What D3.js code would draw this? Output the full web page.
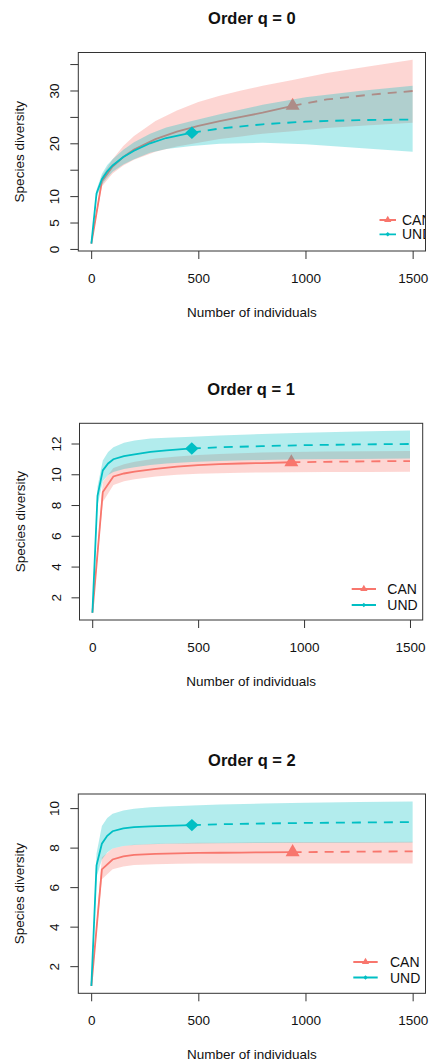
<!DOCTYPE html>
<html>
<head>
<meta charset="utf-8">
<script src="https://cdn.jsdelivr.net/npm/d3@7"></script>
<style>
  body { margin: 0; background: #ffffff; }
  text { font-family: "Liberation Sans", Arial, sans-serif; fill: #111; }
</style>
</head>
<body>
<div id="graph-container"></div>
<script>
// number of individuals at each knot of the rarefaction / extrapolation curves
const sizeCAN = [1, 50, 100, 150, 200, 300, 400, 500, 600, 700, 800, 940, 1100, 1300, 1500];
const sizeUND = [1, 25, 50, 75, 100, 150, 200, 275, 350, 470, 600, 800, 1000, 1250, 1500];
const obsCAN = 940;
const obsUND = 470;

// q = 0
const q0CanEst = [1, 12.8, 15.6, 17.4, 18.8, 20.8, 22.2, 23.3, 24.2, 25.0, 25.8, 27.1, 28.3, 29.2, 29.9];
const q0CanLo  = [1, 11.8, 14.3, 15.8, 16.9, 18.4, 19.4, 20.1, 20.8, 21.3, 21.8, 22.3, 22.9, 23.4, 23.9];
const q0CanHi  = [1, 13.8, 17.0, 19.5, 21.4, 24.2, 26.2, 27.8, 29.0, 30.0, 30.9, 32.0, 33.3, 34.6, 35.8];
const q0UndEst = [1, 10.5, 13.2, 14.7, 15.8, 17.4, 18.6, 20.0, 21.0, 22.0, 22.8, 23.6, 24.1, 24.4, 24.5];
const q0UndLo  = [1, 9.8, 12.2, 13.5, 14.6, 16.0, 17.0, 18.2, 18.9, 19.5, 19.9, 20.1, 19.8, 19.1, 18.4];
const q0UndHi  = [1, 11.2, 14.2, 15.9, 17.0, 18.8, 20.2, 21.8, 23.0, 24.2, 25.5, 27.3, 28.7, 29.9, 30.9];

// q = 1
const q1CanEst = [1, 8.85, 9.86, 10.05, 10.17, 10.35, 10.5, 10.6, 10.66, 10.7, 10.73, 10.78, 10.81, 10.84, 10.86];
const q1CanLo  = [1, 8.2, 9.3, 9.55, 9.68, 9.85, 9.97, 10.03, 10.07, 10.1, 10.12, 10.13, 10.14, 10.15, 10.16];
const q1CanHi  = [1, 9.5, 10.4, 10.65, 10.82, 11.02, 11.15, 11.25, 11.32, 11.37, 11.41, 11.45, 11.48, 11.5, 11.52];
const q1UndEst = [1, 8.6, 10.25, 10.7, 10.98, 11.18, 11.3, 11.45, 11.56, 11.68, 11.75, 11.83, 11.89, 11.94, 11.97];
const q1UndLo  = [1, 7.95, 9.55, 9.95, 10.15, 10.35, 10.45, 10.6, 10.7, 10.8, 10.87, 10.93, 10.97, 11.0, 11.03];
const q1UndHi  = [1, 9.2, 10.9, 11.45, 11.75, 12.05, 12.2, 12.32, 12.38, 12.44, 12.52, 12.62, 12.7, 12.78, 12.84];

// q = 2
const q2CanEst = [1, 6.9, 7.4, 7.56, 7.63, 7.68, 7.71, 7.73, 7.74, 7.75, 7.76, 7.77, 7.78, 7.8, 7.81];
const q2CanLo  = [1, 6.4, 6.9, 7.05, 7.12, 7.16, 7.18, 7.19, 7.19, 7.2, 7.2, 7.2, 7.2, 7.2, 7.2];
const q2CanHi  = [1, 7.5, 7.95, 8.08, 8.14, 8.19, 8.22, 8.24, 8.25, 8.26, 8.27, 8.28, 8.28, 8.29, 8.3];
const q2UndEst = [1, 7.1, 8.2, 8.6, 8.83, 8.97, 9.04, 9.08, 9.1, 9.14, 9.18, 9.22, 9.25, 9.27, 9.29];
const q2UndLo  = [1, 6.5, 7.4, 7.75, 7.95, 8.08, 8.13, 8.17, 8.19, 8.21, 8.22, 8.23, 8.24, 8.25, 8.26];
const q2UndHi  = [1, 7.7, 9.1, 9.5, 9.72, 9.88, 9.97, 10.04, 10.08, 10.13, 10.18, 10.23, 10.27, 10.31, 10.34];

const xTicks = [0, 500, 1000, 1500];
const yTicksQ0 = [0, 5, 10, 15, 20, 25, 30, 35];
const yLabelsQ0 = [0, 5, 10, 20, 30];
const yTicksQ1 = [2, 4, 6, 8, 10, 12];
const yTicksQ2 = [2, 4, 6, 8, 10];

const groups = ["CAN", "UND"];
const colors = {CAN: "#F8766D", UND: "#00BFC4"};

const panels = [
    {title: "Order q = 0", est: [q0CanEst, q0UndEst], lo: [q0CanLo, q0UndLo], hi: [q0CanHi, q0UndHi],
     yTicks: yTicksQ0, yLabels: yLabelsQ0,
     box: {left: 78.3, right: 425.5, top: 52.5, bottom: 251},
     legend: {x1: -46, x2: -29.5, tx: -23.5, y: [-31, -16.7]}},
    {title: "Order q = 1", est: [q1CanEst, q1UndEst], lo: [q1CanLo, q1UndLo], hi: [q1CanHi, q1UndHi],
     yTicks: yTicksQ1, yLabels: yTicksQ1,
     box: {left: 79.5, right: 422.7, top: 423.3, bottom: 620},
     legend: {x1: -71, x2: -46.7, tx: -35.4, y: [-31, -15]}},
    {title: "Order q = 2", est: [q2CanEst, q2UndEst], lo: [q2CanLo, q2UndLo], hi: [q2CanHi, q2UndHi],
     yTicks: yTicksQ2, yLabels: yTicksQ2,
     box: {left: 78.3, right: 425.5, top: 794, bottom: 993.3},
     legend: {x1: -72.2, x2: -47.8, tx: -35.5, y: [-31.3, -15.8]}}
];

var svg = d3.select("#graph-container")
    .append("svg")
    .attr("width", 431)
    .attr("height", 1063)
    .style("display", "block");

svg.append("rect").attr("width", 431).attr("height", 1063).attr("fill", "#ffffff");

// R-style axis range: data extent widened by 4% on each side
const padded = (lo, hi) => {
    const p = 0.04 * (hi - lo);
    return [lo - p, hi + p];
}

const triangle = (r) => {
    const xc = r * Math.sqrt(3) / 2;
    return `M0,${-r}L${xc},${r / 2}L${-xc},${r / 2}Z`;
}
const diamond = (w, h) => `M0,${-h}L${w},0L0,${h}L${-w},0Z`;

const draw = (panel, idx) => {
    const box = panel.box;
    const g = svg.append("g");

    const allVals = d3.merge([...panel.lo, ...panel.hi, ...panel.est]);
    const x = d3.scaleLinear().domain(padded(0, 1500)).range([box.left, box.right]);
    const y = d3.scaleLinear().domain(padded(d3.min(allVals), d3.max(allVals))).range([box.bottom, box.top]);

    const clipId = "clip" + idx;
    g.append("clipPath").attr("id", clipId)
        .append("rect")
        .attr("x", box.left).attr("y", box.top)
        .attr("width", box.right - box.left).attr("height", box.bottom - box.top);

    const plot = g.append("g").attr("clip-path", `url(#${clipId})`);

    const line = d3.line().x(d => x(d.m)).y(d => y(d.v));
    const area = d3.area().x(d => x(d.m)).y0(d => y(d.lo)).y1(d => y(d.hi));

    groups.forEach((name, i) => {
        const sizes = name === "CAN" ? sizeCAN : sizeUND;
        const obs = name === "CAN" ? obsCAN : obsUND;
        const rows = sizes.map((m, k) => ({m: m, v: panel.est[i][k], lo: panel.lo[i][k], hi: panel.hi[i][k]}));
        const col = colors[name];

        plot.append("path")
            .datum(rows.filter(d => d.m <= obs))
            .attr("d", line)
            .style("fill", "none")
            .style("stroke", col)
            .style("stroke-width", 1.8);

        plot.append("path")
            .datum(rows.filter(d => d.m >= obs))
            .attr("d", line)
            .style("fill", "none")
            .style("stroke", col)
            .style("stroke-width", 1.8)
            .style("stroke-dasharray", "9,7");

        const ref = rows.find(d => d.m === obs);
        plot.append("path")
            .attr("transform", `translate(${x(ref.m)},${y(ref.v)})`)
            .attr("d", name === "CAN" ? triangle(8.1) : diamond(6.6, 6.2))
            .style("fill", col);

        plot.append("path")
            .datum(rows)
            .attr("d", area)
            .style("fill", col)
            .style("fill-opacity", 0.3)
            .style("stroke", "none");
    });

    // legend, bottom right inside the plot region
    const lg = panel.legend;
    groups.forEach((name, i) => {
        const ly = box.bottom + lg.y[i];
        const col = colors[name];
        plot.append("line")
            .attr("x1", box.right + lg.x1).attr("x2", box.right + lg.x2)
            .attr("y1", ly).attr("y2", ly)
            .style("stroke", col).style("stroke-width", 1.8);
        const cx = box.right + (lg.x1 + lg.x2) / 2;
        plot.append("path")
            .attr("transform", `translate(${cx},${ly})`)
            .attr("d", name === "CAN" ? triangle(4.2) : diamond(2.2, 2.2))
            .style("fill", col);
        plot.append("text")
            .attr("x", box.right + lg.tx)
            .attr("y", ly)
            .attr("dy", "0.36em")
            .style("font-size", "14px")
            .text(name);
    });

    g.append("rect")
        .attr("x", box.left).attr("y", box.top)
        .attr("width", box.right - box.left).attr("height", box.bottom - box.top)
        .style("fill", "none")
        .style("stroke", "#333")
        .style("stroke-width", 1);

    const xaxis = d3.axisBottom(x).tickValues(xTicks).tickSize(8).tickSizeOuter(0).tickPadding(14)
        .tickFormat(d3.format("d"));
    const gx = g.append("g")
        .attr("class", "x-axis")
        .attr("transform", `translate(0,${box.bottom})`)
        .call(xaxis);
    gx.select(".domain").remove();
    gx.selectAll("line").style("stroke", "#333");
    gx.selectAll("text")
        .style("font-size", "13.5px")
        .style("fill", "#111")
        .style("font-family", '"Liberation Sans", Arial, sans-serif');

    const yaxis = d3.axisLeft(y).tickValues(panel.yTicks).tickSize(8).tickSizeOuter(0)
        .tickFormat(d => panel.yLabels.includes(d) ? d : "");
    const gy = g.append("g")
        .attr("class", "y-axis")
        .attr("transform", `translate(${box.left},0)`)
        .call(yaxis);
    gy.select(".domain").remove();
    gy.selectAll("line").style("stroke", "#333");
    gy.selectAll("text")
        .attr("x", 0)
        .attr("dy", 0)
        .attr("transform", "translate(-19,0) rotate(-90)")
        .style("text-anchor", "middle")
        .style("font-size", "13.5px")
        .style("fill", "#111")
        .style("font-family", '"Liberation Sans", Arial, sans-serif');

    g.append("text")
        .attr("x", (box.left + box.right) / 2)
        .attr("y", box.top - 28.5)
        .style("text-anchor", "middle")
        .style("font-size", "16.5px")
        .style("font-weight", "bold")
        .text(panel.title);

    g.append("text")
        .attr("x", (box.left + box.right) / 2)
        .attr("y", box.bottom + 65.5)
        .style("text-anchor", "middle")
        .style("font-size", "13.5px")
        .text("Number of individuals");

    g.append("text")
        .attr("transform", `translate(${box.left - 54.5},${(box.top + box.bottom) / 2}) rotate(-90)`)
        .style("text-anchor", "middle")
        .style("font-size", "13.5px")
        .text("Species diversity");
}

panels.forEach((p, i) => draw(p, i));
</script>
</body>
</html>
